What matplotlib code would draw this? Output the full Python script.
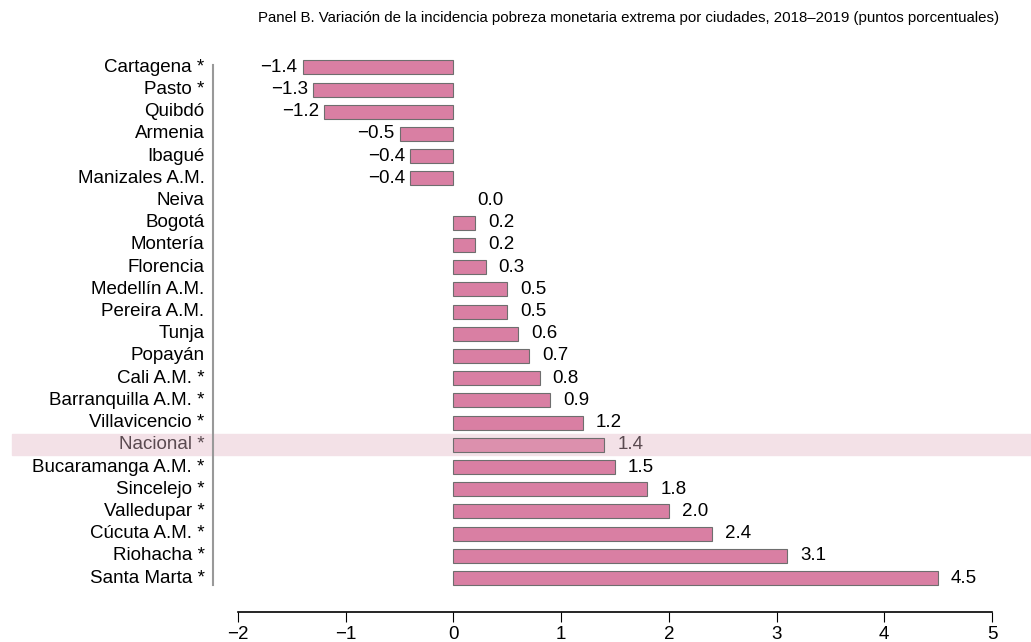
import numpy as np
import matplotlib
matplotlib.use("Agg")
import matplotlib.pyplot as plt

ciudades = ["Cartagena *", "Pasto *", "Quibdó", "Armenia", "Ibagué", "Manizales A.M.",
            "Neiva", "Bogotá", "Montería", "Florencia", "Medellín A.M.", "Pereira A.M.",
            "Tunja", "Popayán", "Cali A.M. *", "Barranquilla A.M. *", "Villavicencio *",
            "Nacional *", "Bucaramanga A.M. *", "Sincelejo *", "Valledupar *",
            "Cúcuta A.M. *", "Riohacha *", "Santa Marta *"]
variacion = [-1.4, -1.3, -1.2, -0.5, -0.4, -0.4, 0.0, 0.2, 0.2, 0.3, 0.5, 0.5,
             0.6, 0.7, 0.8, 0.9, 1.2, 1.4, 1.5, 1.8, 2.0, 2.4, 3.1, 4.5]
xticks = [-2, -1, 0, 1, 2, 3, 4, 5]

titulo = ("Panel B. Variación de la incidencia pobreza monetaria extrema por ciudades, "
          "2018\u20132019 (puntos porcentuales)")


def main():
    plt.rcParams["font.family"] = ["Liberation Sans", "DejaVu Sans"]
    plt.rcParams["axes.unicode_minus"] = True

    fig = plt.figure(figsize=(10.31, 6.42), dpi=100)
    ax = fig.add_axes([238 / 1031, 1 - 612 / 642, (992 - 238) / 1031, (612 - 34) / 642])

    y = np.arange(len(ciudades))
    nac = ciudades.index("Nacional *")
    colores = ["#d97fa3"] * len(ciudades)
    colores[nac] = "#dc90ad"
    anchos = [0.8 if v != 0 else 0 for v in variacion]
    ax.barh(y, variacion, height=0.63, color=colores, edgecolor="#6e6e6e", linewidth=anchos, zorder=3)

    # banda de Nacional
    ax.axhspan(nac - 0.48, nac + 0.48, xmin=-0.3, xmax=1.1, color="#f3e1e7", zorder=1, clip_on=False)

    fs = 13.5
    for i, v in enumerate(variacion):
        txt = ("%.1f" % v).replace("-", "\u2212")
        col = "#5a4a50" if i == nac else "black"
        if v < 0:
            ax.text(v - 0.05, i, txt, ha="right", va="center", fontsize=fs, color=col)
        else:
            ax.text(v + 0.12 if v > 0 else 0.22, i, txt, ha="left", va="center", fontsize=fs, color=col)

    # etiquetas de ciudades
    for i, c in enumerate(ciudades):
        col = "#5a4a50" if i == nac else "black"
        ax.text(-2.31, i, c, ha="right", va="center", fontsize=fs, color=col, clip_on=False)

    ax.plot([-2.23, -2.23], [-0.1, 23.3], color="#999999", lw=1.5, clip_on=False)

    ax.set_ylim(24.53, -1.5)
    ax.set_xlim(-2, 5)
    ax.set_xticks(xticks)
    ax.set_xticklabels([("%d" % t).replace("-", "\u2212") for t in xticks], fontsize=fs)
    ax.tick_params(axis="x", length=7, width=0.8, pad=3)
    ax.set_yticks([])
    for s in ["top", "right", "left"]:
        ax.spines[s].set_visible(False)
    ax.spines["bottom"].set_linewidth(1.2)

    fig.text(629 / 1031, 1 - 18 / 642, titulo, ha="center", va="center", fontsize=10.8)

    fig.savefig("out.png", dpi=100)


if __name__ == "__main__":
    main()
